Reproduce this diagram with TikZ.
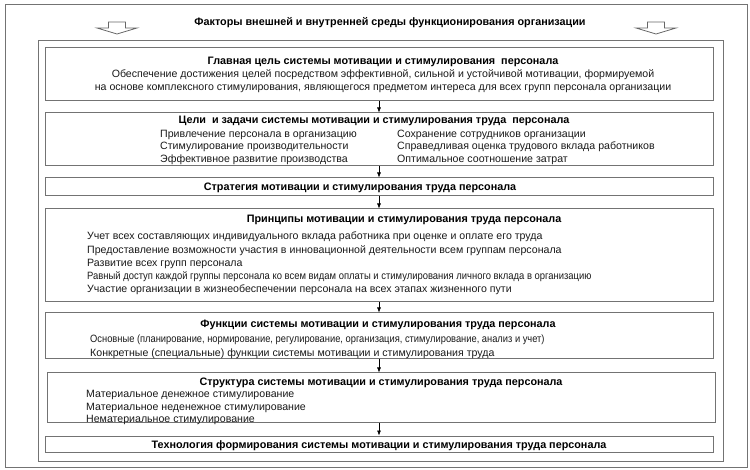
\documentclass[tikz,border=0pt]{standalone}
\usepackage{fontspec}
\setmainfont{Liberation Sans}
\usetikzlibrary{arrows.meta}

\tikzset{
  frame/.style={draw=black!55, line width=0.9pt},
  box/.style={draw=black!55, line width=1pt, minimum width=668pt, inner sep=0pt},
  head/.style={font=\fontsize{10.8}{12}\selectfont\bfseries, anchor=base, inner sep=0pt},
  item/.style={font=\fontsize{10.6}{12}\selectfont, anchor=base west, inner sep=0pt, text=black!90},
  link/.style={-{Latex[length=5pt,width=4pt]}, line width=0.6pt},
  hollow/.style={draw=black!60, fill=white, line width=0.8pt}
}

\begin{document}
\begin{tikzpicture}[x=1pt,y=-1pt]
  \useasboundingbox (0,0) rectangle (750,470);
  % frames
  \draw[frame] (5,4) rectangle (747,467);
  \draw[frame] (38,40) rectangle (723,461);
  \foreach \x in {117,656}
    \draw[hollow] (\x-8.5,22) -- (\x+8.5,22) -- (\x+8.5,28) -- (\x+20,28) -- (\x,34) -- (\x-20,28) -- (\x-8.5,28) -- cycle;
  \node[head] (factors) at (390,26) {Факторы внешней и внутренней среды функционирования организации};

  % boxes
  \node[box, minimum height=53pt] (goal) at (379,74.5) {};
  \node[box, minimum height=53pt] (tasks) at (379,139.5) {};
  \node[box, minimum height=18pt] (strategy) at (379,187) {};
  \node[box, minimum height=93pt] (principles) at (379,255.5) {};
  \node[box, minimum height=46pt] (functions) at (379,336) {};
  \node[box, minimum height=49pt] (structure) at (381,397.5) {};
  \node[box, minimum height=16pt] (technology) at (379,444) {};

  \draw[link] (goal) -- (tasks);
  \draw[link] (tasks) -- (strategy);
  \draw[link] (strategy) -- (principles);
  \draw[link] (principles) -- (functions);
  \draw[link] (functions.south) -- (functions.south |- structure.north);
  \draw[link] (structure.south -| technology.north) -- (technology.north);

  % goal
  \node[head] (goal-t) at (383,65) {Главная цель системы мотивации и стимулирования~ персонала};
  \node[item, anchor=base] (goal-1) at (383,78) {Обеспечение достижения целей посредством эффективной, сильной и устойчивой мотивации, формируемой};
  \node[item, anchor=base] (goal-2) at (383,91) {на основе комплексного стимулирования, являющегося предметом интереса для всех групп персонала организации};

  % tasks
  \node[head] (tasks-t) at (374,124) {Цели~ и задачи системы мотивации и стимулирования труда~ персонала};
  \node[item] (tasks-1) at (160,138) {Привлечение персонала в организацию};
  \node[item] (tasks-2) at (160,150) {Стимулирование производительности};
  \node[item] (tasks-3) at (160,163) {Эффективное развитие производства};
  \node[item] (tasks-4) at (397,138) {Сохранение сотрудников организации};
  \node[item] (tasks-5) at (397,150) {Справедливая оценка трудового вклада работников};
  \node[item] (tasks-6) at (397,163) {Оптимальное соотношение затрат};

  % strategy
  \node[head] (strategy-t) at (360,191) {Стратегия мотивации и стимулирования труда персонала};

  % principles
  \node[head] (principles-t) at (404,223) {Принципы мотивации и стимулирования труда персонала};
  \node[item] (principles-1) at (87,240) {Учет всех составляющих индивидуального вклада работника при оценке и оплате его труда};
  \node[item] (principles-2) at (87,254) {Предоставление возможности участия в инновационной деятельности всем группам персонала};
  \node[item] (principles-3) at (87,267) {Развитие всех групп персонала};
  \node[item] (principles-4) at (87,280) {\scalebox{0.89}[1]{Равный доступ каждой группы персонала ко всем видам оплаты и стимулирования личного вклада в организацию}};
  \node[item] (principles-5) at (87,293) {Участие организации в жизнеобеспечении персонала на всех этапах жизненного пути};

  % functions
  \node[head] (functions-t) at (378,328) {Функции системы мотивации и стимулирования труда персонала};
  \node[item] (functions-1) at (90,343) {\scalebox{0.88}[1]{Основные (планирование, нормирование, регулирование, организация, стимулирование, анализ и учет)}};
  \node[item] (functions-2) at (90,356) {Конкретные (специальные) функции системы мотивации и стимулирования труда};

  % structure
  \node[head] (structure-t) at (381,385) {Структура системы мотивации и стимулирования труда персонала};
  \node[item] (structure-1) at (86,397) {Материальное денежное стимулирование};
  \node[item] (structure-2) at (86,410) {Материальное неденежное стимулирование};
  \node[item] (structure-3) at (86,422) {Нематериальное стимулирование};

  % technology
  \node[head] (technology-t) at (379,448) {Технология формирования системы мотивации и стимулирования труда персонала};
\end{tikzpicture}
\end{document}
